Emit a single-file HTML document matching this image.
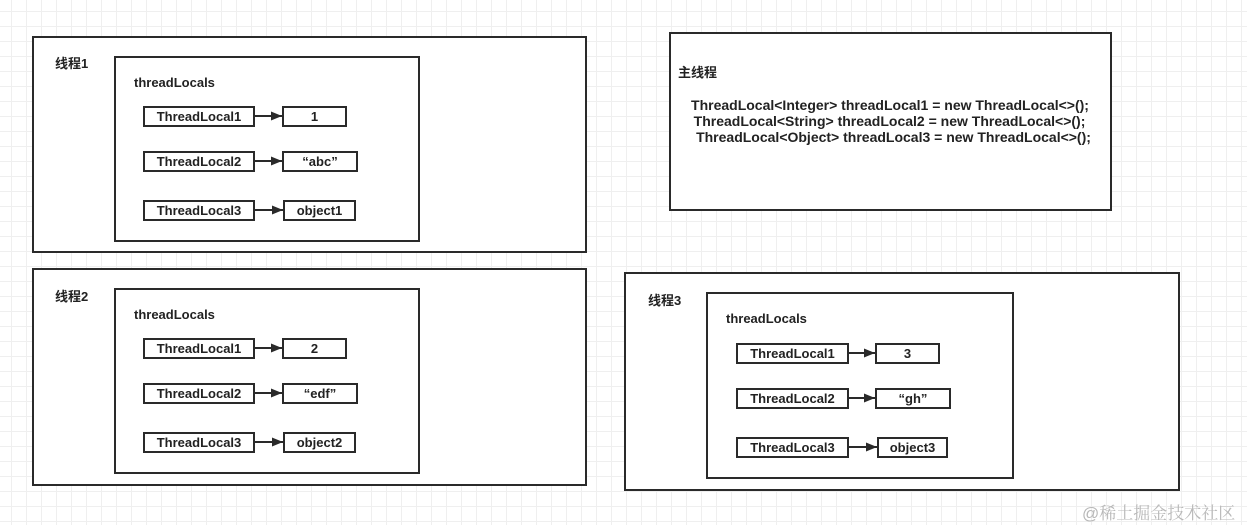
<!DOCTYPE html>
<html><head><meta charset="utf-8"><style>
html,body{margin:0;padding:0}
body{width:1247px;height:525px;position:relative;overflow:hidden;background-color:#fff;
background-image:linear-gradient(#efefef 1px,transparent 1px),linear-gradient(90deg,#efefef 1px,transparent 1px);
background-size:15px 15px;background-position:-4px -4px;
font-family:"Liberation Sans","Noto Sans CJK SC",sans-serif;font-weight:bold;color:#222;font-size:13px}
.b{position:absolute;border:2px solid #2a2a2a;background:#fff;box-sizing:border-box}
.t{position:absolute;white-space:nowrap}
.n{position:absolute;border:2px solid #2a2a2a;background:#fff;box-sizing:border-box;text-align:center;line-height:18px;font-size:13px}
svg{position:absolute;left:0;top:0}
</style></head><body>

<div class="b" style="left:32px;top:36px;width:555px;height:217px"></div>
<div class="b" style="left:114px;top:56px;width:306px;height:186px"></div>
<div class="t" style="left:55px;top:53px">线程1</div>
<div class="t" style="left:134px;top:75px">threadLocals</div>
<div class="n" style="left:143px;top:106px;width:112px;height:21px">ThreadLocal1</div>
<div class="n" style="left:282px;top:106px;width:65px;height:21px">1</div>
<div class="n" style="left:143px;top:151px;width:112px;height:21px">ThreadLocal2</div>
<div class="n" style="left:282px;top:151px;width:76px;height:21px">“abc”</div>
<div class="n" style="left:143px;top:200px;width:112px;height:21px">ThreadLocal3</div>
<div class="n" style="left:283px;top:200px;width:73px;height:21px">object1</div>

<div class="b" style="left:32px;top:268px;width:555px;height:218px"></div>
<div class="b" style="left:114px;top:288px;width:306px;height:186px"></div>
<div class="t" style="left:55px;top:286px">线程2</div>
<div class="t" style="left:134px;top:307px">threadLocals</div>
<div class="n" style="left:143px;top:338px;width:112px;height:21px">ThreadLocal1</div>
<div class="n" style="left:282px;top:338px;width:65px;height:21px">2</div>
<div class="n" style="left:143px;top:383px;width:112px;height:21px">ThreadLocal2</div>
<div class="n" style="left:282px;top:383px;width:76px;height:21px">“edf”</div>
<div class="n" style="left:143px;top:432px;width:112px;height:21px">ThreadLocal3</div>
<div class="n" style="left:283px;top:432px;width:73px;height:21px">object2</div>

<div class="b" style="left:669px;top:32px;width:443px;height:179px"></div>
<div class="t" style="left:678px;top:62px">主线程</div>
<div class="t" style="left:670px;top:97px;width:443px;text-align:center;line-height:16px;font-size:14px">
<div style="margin-left:-3px">ThreadLocal&lt;Integer&gt; threadLocal1 = new ThreadLocal&lt;&gt;();</div>
<div style="margin-left:-4px">ThreadLocal&lt;String&gt; threadLocal2 = new ThreadLocal&lt;&gt;();</div>
<div style="margin-left:4px">ThreadLocal&lt;Object&gt; threadLocal3 = new ThreadLocal&lt;&gt;();</div>
</div>

<div class="b" style="left:624px;top:272px;width:556px;height:219px"></div>
<div class="b" style="left:706px;top:292px;width:308px;height:187px"></div>
<div class="t" style="left:648px;top:290px">线程3</div>
<div class="t" style="left:726px;top:311px">threadLocals</div>
<div class="n" style="left:736px;top:343px;width:113px;height:21px">ThreadLocal1</div>
<div class="n" style="left:875px;top:343px;width:65px;height:21px">3</div>
<div class="n" style="left:736px;top:388px;width:113px;height:21px">ThreadLocal2</div>
<div class="n" style="left:875px;top:388px;width:76px;height:21px">“gh”</div>
<div class="n" style="left:736px;top:437px;width:113px;height:21px">ThreadLocal3</div>
<div class="n" style="left:877px;top:437px;width:71px;height:21px">object3</div>

<svg width="1247" height="525">
<defs><marker id="a" markerWidth="11" markerHeight="9" refX="11" refY="4.5" orient="auto" markerUnits="userSpaceOnUse"><path d="M0,0 L11,4.5 L0,9 Z" fill="#2a2a2a"/></marker></defs>
<g stroke="#2a2a2a" stroke-width="2" marker-end="url(#a)">
<line x1="255" y1="116" x2="282" y2="116"/>
<line x1="255" y1="161" x2="282" y2="161"/>
<line x1="255" y1="210" x2="283" y2="210"/>
<line x1="255" y1="348" x2="282" y2="348"/>
<line x1="255" y1="393" x2="282" y2="393"/>
<line x1="255" y1="442" x2="283" y2="442"/>
<line x1="849" y1="353" x2="875" y2="353"/>
<line x1="849" y1="398" x2="875" y2="398"/>
<line x1="849" y1="447" x2="877" y2="447"/>
</g>
</svg>

<div class="t" style="left:1082px;top:499px;font-size:17px;font-weight:normal;color:#b8b8b8;font-family:'Liberation Sans','Noto Serif CJK SC',serif">@稀土掘金技术社区</div>
</body></html>
